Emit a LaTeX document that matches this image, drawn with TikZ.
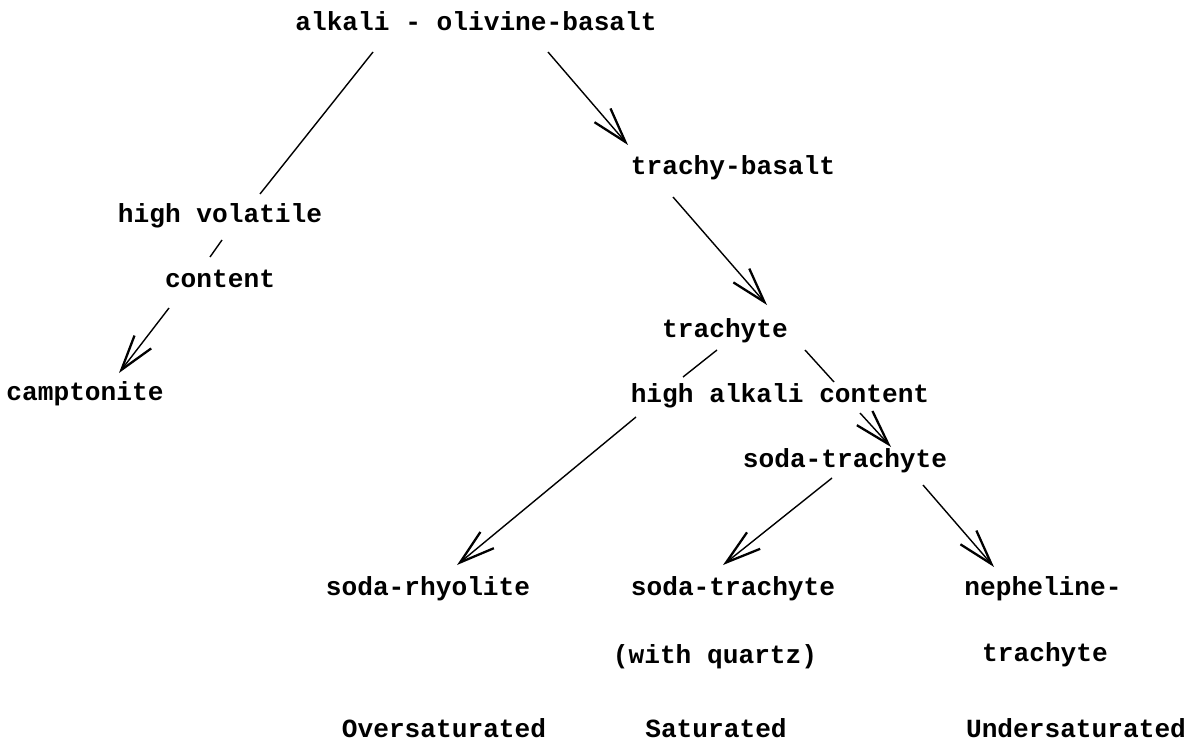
\documentclass[tikz,border=0pt]{standalone}
\usepackage{fontspec}
\setmonofont{Liberation Mono}
\usetikzlibrary{arrows.meta}

\begin{document}
\begin{tikzpicture}[x=0.02cm, y=-0.02cm,
    every node/.style={font=\ttfamily\bfseries\fontsize{14.9}{18}\selectfont, inner sep=0pt, text height=0.9em, text depth=0pt},
    link/.style={line width=0.8pt},
    flow/.style={link, -{Straight Barb[length=20pt, width=12pt, line width=1.3pt]}}]
  \useasboundingbox (0,0) rectangle (1196,753);
  % rock names and conditions
  \node (aob)   at (476,23)  {alkali - olivine-basalt};
  \node (tb)    at (733,167) {trachy-basalt};
  \node (hv)    at (220,215) {high volatile};
  \node (cnt)   at (220,280) {content};
  \node (camp)  at (85,393)  {camptonite};
  \node (trach) at (725,330) {trachyte};
  \node (hac)   at (780,395) {high alkali content};
  \node (st)    at (845,460) {soda-trachyte};
  \node (srh)   at (428,588) {soda-rhyolite};
  \node (stq)   at (733,588) {soda-trachyte};
  \node (qtz)   at (715,656) {(with quartz)};
  \node (neph)  at (1043,588) {nepheline-};
  \node (nt)    at (1045,654) {trachyte};
  \node (over)  at (444,730) {Oversaturated};
  \node (sat)   at (716,730) {Saturated};
  \node (under) at (1076,730) {Undersaturated};
  % connectors
  \draw[link] ([shift={(-103,29)}]aob.center) -- ([shift={(40,-21)}]hv.center);
  \draw[flow] ([shift={(72,29)}]aob.center) -- ([shift={(-105,-22)}]tb.center);
  \draw[link] ([shift={(2,25)}]hv.center) -- ([shift={(-10,-23)}]cnt.center);
  \draw[flow] ([shift={(-51,28)}]cnt.center) -- ([shift={(34,-20)}]camp.center);
  \draw[flow] ([shift={(-60,30)}]tb.center) -- ([shift={(42,-25)}]trach.center);
  \draw[link] ([shift={(-8,20)}]trach.center) -- ([shift={(-97,-18)}]hac.center);
  \draw[link] ([shift={(80,20)}]trach.center) -- ([shift={(54,-13)}]hac.center);
  \draw[flow] ([shift={(80,18)}]hac.center) -- ([shift={(46,-13)}]st.center);
  \draw[flow] ([shift={(-144,22)}]hac.center) -- ([shift={(29,-23)}]srh.center);
  \draw[flow] ([shift={(-13,18)}]st.center) -- ([shift={(-10,-23)}]stq.center);
  \draw[flow] ([shift={(78,25)}]st.center) -- ([shift={(-49,-21)}]neph.center);
\end{tikzpicture}
\end{document}
